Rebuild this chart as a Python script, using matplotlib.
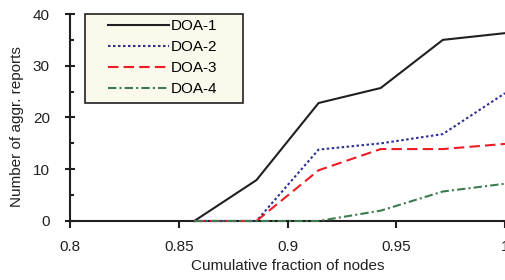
import matplotlib
matplotlib.use('Agg')
import matplotlib.pyplot as plt
from matplotlib.ticker import MultipleLocator
from matplotlib.patches import Rectangle

# data
fraction = [30/35, 31/35, 32/35, 33/35, 34/35, 35/35]
doa1 = [0, 7.9, 22.8, 25.7, 35.0, 36.3]
doa2 = [0, 0, 13.8, 15.0, 16.8, 24.7]
doa3 = [0, 0, 9.8, 13.9, 13.9, 14.9]
doa4 = [0, 0, 0, 2.0, 5.7, 7.2]
labels = ['DOA-1', 'DOA-2', 'DOA-3', 'DOA-4']

plt.rcParams['font.family'] = ['Liberation Sans', 'DejaVu Sans']
plt.rcParams['font.size'] = 11

fig = plt.figure(figsize=(5.05, 2.8), dpi=100)
ax = fig.add_axes([70/505, 59/280, 435/505, 207/280])

ax.plot(fraction, doa1, color='#231f20', lw=1.5, ls='-', label=labels[0], zorder=3, clip_on=False)
ax.plot(fraction, doa2, color='#2e3192', lw=1.5, ls=(0, (1.2, 1.2)), label=labels[1], zorder=3, clip_on=False)
ax.plot(fraction, doa3, color='#ed1c24', lw=1.5, ls=(0, (5, 2.5)), label=labels[2], zorder=3, clip_on=False)
ax.plot(fraction, doa4, color='#3d7a52', lw=1.5, ls=(0, (4, 1.5, 1, 1.5)), label=labels[3], zorder=3, clip_on=False)

ax.set_xlim(0.8, 1.0)
ax.set_ylim(0, 40)
ax.set_xticks([0.8, 0.85, 0.9, 0.95, 1.0])
ax.set_xticklabels(['0.8', '0.85', '0.9', '0.95', '1'])
ax.set_yticks([0, 10, 20, 30, 40])
ax.yaxis.set_minor_locator(MultipleLocator(5))

for side in ['top', 'right']:
    ax.spines[side].set_visible(False)
for side in ['left', 'bottom']:
    ax.spines[side].set_linewidth(1.5)
    ax.spines[side].set_color('#231f20')

ax.tick_params(axis='y', which='major', direction='inout', length=7, width=1.5, colors='#231f20', pad=11)
ax.tick_params(axis='y', which='minor', direction='in', length=3, width=1.5, colors='#231f20')
ax.tick_params(axis='x', which='major', direction='out', length=5, width=1.5, colors='#231f20', pad=9)
ax.tick_params(labelcolor='#231f20', labelsize=11)

ax.set_xlabel('Cumulative fraction of nodes', color='#231f20')
ax.set_ylabel('Number of aggr. reports', color='#231f20')
ax.xaxis.set_label_coords(0.5, -0.184)
ax.yaxis.set_label_coords(-0.105, 0.454)

# legend box drawn by hand so the padding matches the reference
box = Rectangle((0.0345, 0.570), 0.364, 0.43, transform=ax.transAxes,
                facecolor='#fbf8ec', edgecolor='#231f20', lw=1.2, zorder=4, clip_on=False)
ax.add_patch(box)
leg = ax.legend(loc='upper left', bbox_to_anchor=(0.087, 0.975), frameon=False,
                handlelength=4.0, handletextpad=0.15, borderpad=0,
                labelspacing=0.46, borderaxespad=0, fontsize=11)
leg.set_zorder(5)

fig.savefig('out.png', dpi=100)
